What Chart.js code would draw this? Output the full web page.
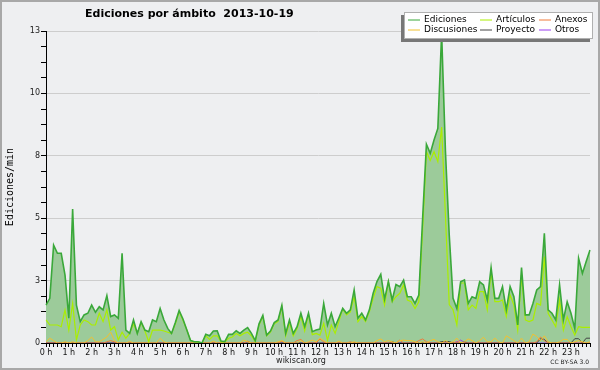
<!DOCTYPE html>
<html>
<head>
<meta charset="utf-8">
<script src="https://cdn.jsdelivr.net/npm/chart.js@4/dist/chart.umd.min.js"></script>
<style>
  html, body { margin: 0; padding: 0; background: #eeeff1; }
  canvas { display: block; }
</style>
</head>
<body>
<canvas id="myChart" width="600" height="370"></canvas>
<script>
// 10 minute slots, 0:00 .. 23:50
var slots = [];
for (var m = 0; m < 1440; m += 10) {
  slots.push(Math.floor(m / 60) + ':' + String(m % 60).padStart(2, '0'));
}

// edits per minute, one row = 2 hours
var ediciones = [
  1.58, 1.86, 4.08, 3.74, 3.74, 2.83, 1.03, 5.58, 1.58, 0.89, 1.17, 1.24,
  1.58, 1.28, 1.51, 1.38, 1.97, 1.10, 1.17, 1.03, 3.74, 0.54, 0.40, 0.96,
  0.40, 0.89, 0.54, 0.47, 0.96, 0.89, 1.44, 0.96, 0.61, 0.40, 0.85, 1.35,
  1.00, 0.55, 0.10, 0.05, 0.05, 0.00, 0.36, 0.30, 0.50, 0.51, 0.08, 0.06,
  0.36, 0.36, 0.51, 0.40, 0.54, 0.64, 0.40, 0.10, 0.80, 1.15, 0.33, 0.50,
  0.85, 0.96, 1.57, 0.40, 0.96, 0.40, 0.68, 1.24, 0.68, 1.24, 0.47, 0.54,
  0.58, 1.65, 0.75, 1.24, 0.68, 1.05, 1.44, 1.24, 1.38, 2.21, 1.03, 1.24,
  0.96, 1.38, 2.07, 2.56, 2.86, 1.83, 2.56, 1.79, 2.44, 2.35, 2.62, 1.93,
  1.93, 1.65, 2.00, 5.19, 8.28, 7.90, 8.46, 8.94, 12.9, 8.00, 4.50, 1.86,
  1.44, 2.55, 2.63, 1.65, 1.93, 1.86, 2.55, 2.42, 1.79, 3.14, 1.86, 1.86,
  2.35, 1.38, 2.35, 1.93, 0.75, 3.14, 1.17, 1.17, 1.65, 2.21, 2.35, 4.57,
  1.38, 1.24, 0.96, 2.42, 0.96, 1.72, 1.24, 0.60, 3.53, 2.90, 3.40, 3.88
];
var articulos = [
  0.96, 0.75, 0.75, 0.75, 0.68, 1.38, 0.54, 1.65, 0.13, 0.75, 0.96, 0.89,
  0.75, 0.75, 1.24, 0.89, 1.38, 0.54, 0.68, 0.13, 0.45, 0.20, 0.40, 0.80,
  0.40, 0.85, 0.50, 0.05, 0.54, 0.54, 0.54, 0.50, 0.45, 0.40, 0.80, 1.30,
  0.95, 0.55, 0.10, 0.05, 0.05, 0.00, 0.30, 0.15, 0.30, 0.30, 0.05, 0.05,
  0.20, 0.25, 0.40, 0.30, 0.40, 0.45, 0.30, 0.05, 0.75, 1.10, 0.30, 0.45,
  0.80, 0.90, 1.50, 0.30, 0.85, 0.30, 0.60, 1.10, 0.50, 1.20, 0.35, 0.40,
  0.33, 0.82, 0.12, 0.75, 0.40, 0.90, 1.42, 1.17, 1.30, 1.93, 0.89, 1.10,
  0.89, 1.30, 1.86, 2.35, 2.28, 1.58, 2.56, 1.72, 1.93, 2.07, 2.42, 1.79,
  1.72, 1.44, 1.72, 4.70, 7.97, 7.60, 7.97, 7.55, 9.00, 5.30, 1.60, 1.38,
  0.75, 2.50, 2.50, 1.38, 1.58, 1.44, 2.14, 2.14, 1.38, 2.97, 1.72, 1.72,
  1.79, 1.10, 2.00, 1.58, 0.54, 2.83, 0.96, 0.89, 0.96, 1.65, 1.58, 3.60,
  1.24, 0.96, 0.68, 1.79, 0.54, 1.10, 0.68, 0.33, 0.68, 0.65, 0.65, 0.65
];
var discusiones = [
  0.05, 0.20, 0.10, 0, 0, 0.05, 0, 0.05, 0, 0, 0, 0.10,
  0.25, 0.05, 0.05, 0.15, 0.25, 0.45, 0.10, 0, 0, 0, 0.07, 0,
  0, 0, 0, 0, 0, 0, 0.20, 0.05, 0, 0, 0, 0,
  0, 0, 0, 0, 0, 0, 0, 0, 0.08, 0, 0, 0,
  0, 0, 0, 0, 0.12, 0.05, 0, 0, 0, 0, 0, 0,
  0, 0.05, 0.10, 0, 0, 0, 0, 0.10, 0, 0.05, 0.12, 0.05,
  0.20, 0.10, 0, 0, 0, 0.08, 0, 0, 0, 0.05, 0, 0,
  0, 0, 0, 0.10, 0.17, 0.05, 0.10, 0.05, 0, 0.10, 0.12, 0.10,
  0.10, 0.05, 0, 0.05, 0, 0.10, 0.15, 0.05, 0, 0.10, 0, 0.05,
  0.20, 0, 0.05, 0.17, 0.10, 0, 0.10, 0.24, 0.05, 0.05, 0.20, 0.05,
  0, 0.30, 0.20, 0.10, 0, 0.20, 0, 0.05, 0.37, 0.27, 0.10, 0.30,
  0.05, 0, 0, 0.05, 0.15, 0.15, 0, 0.05, 0.10, 0.05, 0, 0.05
];
var anexos = [
  0, 0, 0, 0, 0, 0, 0, 0, 0, 0, 0, 0,
  0, 0, 0, 0, 0.05, 0.10, 0.05, 0, 0, 0, 0, 0,
  0, 0, 0, 0, 0, 0, 0, 0, 0, 0, 0, 0,
  0, 0, 0, 0, 0, 0, 0, 0, 0, 0, 0, 0,
  0, 0, 0, 0, 0, 0.08, 0, 0, 0, 0, 0, 0,
  0, 0, 0.08, 0, 0, 0, 0.10, 0.15, 0, 0, 0, 0,
  0.17, 0.05, 0, 0, 0, 0, 0, 0, 0.05, 0, 0, 0,
  0, 0, 0, 0, 0, 0, 0, 0, 0, 0.12, 0, 0,
  0, 0, 0.10, 0.17, 0.05, 0, 0, 0, 0, 0, 0, 0,
  0.05, 0, 0, 0, 0, 0, 0, 0, 0, 0, 0, 0,
  0, 0, 0, 0, 0, 0, 0, 0, 0, 0.05, 0.25, 0.10,
  0, 0, 0, 0, 0, 0, 0, 0, 0, 0, 0, 0
];
var proyecto = [
  0, 0, 0, 0, 0, 0, 0, 0, 0, 0, 0, 0,
  0, 0, 0, 0, 0, 0, 0, 0, 0, 0, 0, 0,
  0, 0, 0, 0, 0, 0, 0, 0, 0, 0, 0, 0,
  0, 0, 0, 0, 0, 0, 0, 0, 0, 0, 0, 0,
  0, 0, 0, 0, 0, 0, 0, 0, 0, 0, 0, 0,
  0, 0, 0, 0, 0, 0, 0, 0, 0, 0, 0, 0,
  0, 0, 0, 0, 0, 0, 0, 0, 0, 0, 0, 0,
  0, 0, 0, 0, 0, 0, 0, 0.05, 0, 0, 0, 0,
  0, 0, 0, 0, 0, 0, 0, 0, 0.06, 0.06, 0.06, 0,
  0, 0, 0.05, 0, 0, 0, 0, 0, 0, 0, 0, 0,
  0, 0, 0, 0, 0, 0, 0, 0, 0, 0, 0.18, 0.15,
  0, 0, 0, 0, 0, 0, 0, 0.18, 0.18, 0, 0.20, 0.20
];
var otros = [
  0, 0, 0, 0, 0, 0, 0, 0, 0, 0, 0, 0,
  0, 0, 0, 0, 0, 0, 0, 0, 0, 0, 0, 0,
  0, 0, 0, 0, 0, 0, 0, 0, 0, 0, 0, 0,
  0, 0, 0, 0, 0, 0, 0, 0, 0, 0, 0, 0,
  0, 0, 0, 0, 0, 0, 0, 0, 0, 0, 0, 0,
  0, 0, 0, 0, 0, 0, 0, 0, 0, 0, 0, 0,
  0, 0, 0, 0, 0, 0, 0, 0, 0, 0, 0, 0,
  0, 0, 0, 0, 0, 0, 0, 0, 0, 0, 0, 0,
  0, 0, 0, 0, 0, 0, 0, 0, 0, 0, 0, 0,
  0.05, 0.12, 0.02, 0, 0, 0, 0, 0, 0, 0, 0, 0,
  0, 0, 0, 0, 0, 0, 0, 0, 0, 0, 0, 0,
  0, 0, 0, 0, 0, 0, 0, 0, 0, 0, 0, 0
];

// y axis: labelled ticks (rounded on the picture), minor ticks in between
var yTicks = [0, 2.6, 5.2, 7.8, 10.4, 13];
var yTickLabels = ['0', '3', '5', '8', '10', '13'];

var chartTitle = 'Ediciones por ámbito  2013-10-19';
var yTitle = 'Ediciones/min';

var FONT = 'DejaVu Sans';

//background, frame, title, legend and footer
var decor = {
  id: 'decor',
  beforeDraw: function(chart) {
    var c = chart.ctx;
    c.save();
    c.fillStyle = '#eeeff1';
    c.fillRect(0, 0, chart.width, chart.height);
    c.strokeStyle = '#a8a8a8';
    c.lineWidth = 2;
    c.strokeRect(1, 1, chart.width - 2, chart.height - 2);
    c.restore();
  },
  afterDraw: function(chart) {
    var c = chart.ctx;
    c.save();
    c.fillStyle = '#000';
    c.font = 'bold 11px ' + FONT;
    c.textAlign = 'left';
    c.textBaseline = 'alphabetic';
    c.fillText(chartTitle, 85, 17);

    // legend box with shadow
    c.fillStyle = '#777';
    c.fillRect(401, 15, 189, 27);
    c.fillStyle = '#fff';
    c.fillRect(404, 12, 189, 27);
    c.strokeStyle = '#b0b0b0';
    c.lineWidth = 1;
    c.strokeRect(404.5, 12.5, 188, 26);

    var ds = chart.data.datasets;
    var cols = [408, 480, 539];
    var rows = [19.5, 29.5];
    // same reading order as the picture: row by row, 3 columns
    var order = [0, 1, 3, 2, 4, 5];
    c.font = '9px ' + FONT;
    c.textBaseline = 'middle';
    for (var k = 0; k < order.length; k++) {
      var d = ds[order[k]];
      var x = cols[k % 3];
      var y = rows[Math.floor(k / 3)];
      c.strokeStyle = d.borderColor;
      c.beginPath();
      c.moveTo(x, y + 0.5);
      c.lineTo(x + 12, y + 0.5);
      c.stroke();
      c.fillStyle = '#000';
      c.fillText(d.label, x + 16, y);
    }

    c.font = '8px ' + FONT;
    c.textAlign = 'center';
    c.fillStyle = '#222';
    c.fillText('wikiscan.org', 301, 361);
    c.font = '6px ' + FONT;
    c.textAlign = 'right';
    c.fillText('CC BY-SA 3.0', 589, 362);
    c.restore();
  }
};

function line(label, data, color, width) {
  return {
    label: label,
    data: data,
    borderColor: color,
    backgroundColor: color,
    borderWidth: width,
    fill: false
  };
}

var edDs = line('Ediciones', ediciones, '#3aa83a', 1.6);
edDs.fill = 'origin';
edDs.backgroundColor = '#9ccb9a';

var data = {
  labels: slots,
  datasets: [
    edDs,
    line('Artículos', articulos, '#aaee00', 1.2),
    line('Discusiones', discusiones, '#f2c12e', 1),
    line('Anexos', anexos, '#f07a3a', 1),
    line('Proyecto', proyecto, '#444444', 1),
    line('Otros', otros, '#9a3cf0', 1)
  ]
};

var config = {
  type: 'line',
  data: data,
  plugins: [decor],
  options: {
    responsive: false,
    animation: false,
    layout: { padding: { top: 31, right: 10, left: 0, bottom: 0 } },
    elements: {
      point: { radius: 0 },
      line: { tension: 0 }
    },
    plugins: {
      legend: { display: false },
      title: { display: false },
      tooltip: { enabled: false },
      filler: { drawTime: 'beforeDatasetsDraw' }
    },
    scales: {
      x: {
        offset: false,
        z: 1,
        border: { color: '#000', width: 1 },
        grid: { drawOnChartArea: false, tickLength: 4, tickColor: '#000', offset: false },
        ticks: {
          autoSkip: false,
          maxRotation: 0,
          minRotation: 0,
          padding: 1,
          color: '#111',
          font: { family: FONT, size: 8 },
          callback: function(v, i) {
            var p = slots[i].split(':');
            return p[1] === '00' ? p[0] + ' h' : '';
          }
        },
        afterFit: function(s) { s.height = 27; }
      },
      y: {
        min: 0,
        max: 13,
        border: { color: '#000', width: 1 },
        grid: {
          tickLength: 5,
          tickColor: '#000',
          color: function(ctx) {
            return ctx.tick && ctx.tick.major ? '#cdcdcd' : 'rgba(0,0,0,0)';
          }
        },
        afterBuildTicks: function(s) {
          var t = [];
          for (var j = 0; j < yTicks.length; j++) {
            t.push({ value: yTicks[j], major: true, text: yTickLabels[j] });
            if (j < yTicks.length - 1) {
              var step = (yTicks[j + 1] - yTicks[j]) / 4;
              for (var q = 1; q < 4; q++) t.push({ value: yTicks[j] + q * step, major: false, text: '' });
            }
          }
          s.ticks = t;
        },
        ticks: {
          padding: 1,
          color: '#222',
          font: { family: FONT, size: 8 },
          callback: function(v, i, ticks) { return ticks[i].text; }
        },
        title: {
          display: true,
          text: yTitle,
          color: '#000',
          font: { family: 'DejaVu Sans Mono', size: 10 },
          padding: { top: 4, bottom: 0 }
        },
        afterFit: function(s) { s.width = 46; }
      }
    }
  }
};

var myChart = new Chart(document.getElementById('myChart'), config);
</script>
</body>
</html>
